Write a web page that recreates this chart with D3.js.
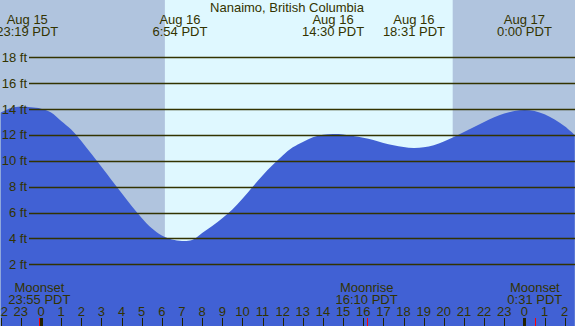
<!DOCTYPE html>
<html>
<head>
<meta charset="utf-8">
<script src="https://cdn.jsdelivr.net/npm/d3@7"></script>
<style>
  body { margin: 0; background: #fff; }
  svg { display: block; font-family: "Liberation Sans", Arial, sans-serif; }
</style>
</head>
<body>
<script>
// hours counted from midnight, Aug 16 (PDT)
var tideHours = [-2, -1.5, -1, -0.5, 0, 0.5, 1, 1.5, 2, 2.5, 3, 3.5, 4, 4.5, 5, 5.5, 6, 6.5, 7, 7.5,
                 8, 8.5, 9, 9.5, 10, 10.5, 11, 11.5, 12, 12.5, 13, 13.5, 14, 14.5, 15, 15.5, 16, 16.5,
                 17, 17.5, 18, 18.5, 19, 19.5, 20, 20.5, 21, 21.5, 22, 22.5, 23, 23.5, 24, 24.5, 25,
                 25.5, 26, 26.5];
var tideFeet = [13.72, 14.08, 14.2, 14.13, 14.03, 13.73, 13.08, 12.42, 11.54, 10.54, 9.54, 8.52, 7.51,
                6.5, 5.58, 4.78, 4.22, 3.92, 3.8, 3.88, 4.42, 4.96, 5.56, 6.24, 7.06, 7.97, 8.87, 9.67,
                10.42, 11.04, 11.46, 11.82, 12.02, 12.07, 12.04, 11.92, 11.78, 11.6, 11.38, 11.2, 11.07,
                10.99, 11.04, 11.2, 11.49, 11.84, 12.23, 12.61, 13.0, 13.37, 13.66, 13.85, 13.93, 13.85,
                13.59, 13.19, 12.67, 12.0];

// tide extremes shown on top
var eventHours = [-0.683, 6.9, 14.5, 18.517, 24];
var eventDates = ["Aug 15", "Aug 16", "Aug 16", "Aug 16", "Aug 17"];
var eventTimes = ["23:19 PDT", "6:54 PDT", "14:30 PDT", "18:31 PDT", "0:00 PDT"];

// moon events on the bottom
var moonHours = [-0.083, 16.167, 24.517];
var moonNames = ["Moonset", "Moonrise", "Moonset"];
var moonTimes = ["23:55 PDT", "16:10 PDT", "0:31 PDT"];

var sunriseHour = 6.15, sunsetHour = 20.44;
var feetTicks = [2, 4, 6, 8, 10, 12, 14, 16, 18];
var hourTicks = d3.range(-2, 27);

var width = 575, height = 326;
var textColor = "#333300";
var fontSize = 13;

let svg = d3.select("body").append("svg")
  .attr("width", width)
  .attr("height", height);

let x = d3.scaleLinear().domain([0, 24]).range([41, 524.4]);
let y = d3.scaleLinear().domain([0, 18]).range([290.2, 57.3]);

// night / day background
svg.append("rect").attr("x", 0).attr("y", 0).attr("width", width).attr("height", height)
  .attr("fill", "#b0c4de");
svg.append("rect")
  .attr("x", x(sunriseHour)).attr("y", 0)
  .attr("width", x(sunsetHour) - x(sunriseHour)).attr("height", height)
  .attr("fill", "#dff8ff");

// tide area
let tide = tideHours.map((h, i) => [h, tideFeet[i]]);
let area = d3.area()
  .x(d => x(d[0]))
  .y0(height)
  .y1(d => y(d[1]))
  .curve(d3.curveCatmullRom);
svg.append("path").datum(tide)
  .attr("d", area)
  .attr("fill", "#4161d4");

// horizontal grid lines with ft labels
let yAxis = svg.append("g");
feetTicks.forEach(f => {
  yAxis.append("line")
    .attr("x1", 29).attr("x2", width)
    .attr("y1", Math.round(y(f)) + 0.5).attr("y2", Math.round(y(f)) + 0.5)
    .attr("stroke", textColor).attr("stroke-width", 1.3);
  yAxis.append("text")
    .attr("x", 27).attr("y", y(f) + 4.5)
    .attr("text-anchor", "end")
    .attr("font-size", fontSize)
    .attr("fill", textColor)
    .text(f + " ft");
});

// title
svg.append("text")
  .attr("x", 287).attr("y", 12)
  .attr("text-anchor", "middle").attr("font-size", fontSize).attr("fill", textColor)
  .text("Nanaimo, British Columbia");

// tide event labels
eventHours.forEach((h, i) => {
  let g = svg.append("g").attr("text-anchor", "middle").attr("font-size", fontSize).attr("fill", textColor);
  g.append("text").attr("x", x(h)).attr("y", 24).text(eventDates[i]);
  g.append("text").attr("x", x(h)).attr("y", 36).text(eventTimes[i]);
});

// moon labels
moonHours.forEach((h, i) => {
  let g = svg.append("g").attr("text-anchor", "middle").attr("font-size", fontSize).attr("fill", textColor);
  g.append("text").attr("x", x(h)).attr("y", 292).text(moonNames[i]);
  g.append("text").attr("x", x(h)).attr("y", 304).text(moonTimes[i]);
});

// hour axis
hourTicks.forEach(h => {
  let hr = ((h % 24) + 24) % 24;
  svg.append("text")
    .attr("x", x(h)).attr("y", 316)
    .attr("text-anchor", "middle").attr("font-size", fontSize).attr("fill", textColor)
    .text(hr);
  svg.append("line")
    .attr("x1", Math.round(x(h)) + 0.5).attr("x2", Math.round(x(h)) + 0.5)
    .attr("y1", 318).attr("y2", height)
    .attr("stroke", "#222200")
    .attr("stroke-width", hr === 0 ? 3 : 1);
});

// moon event ticks
moonHours.forEach(h => {
  svg.append("line")
    .attr("x1", Math.round(x(h)) + 0.5).attr("x2", Math.round(x(h)) + 0.5)
    .attr("y1", 318).attr("y2", height)
    .attr("stroke", "red").attr("stroke-width", 1);
});
</script>
</body>
</html>
